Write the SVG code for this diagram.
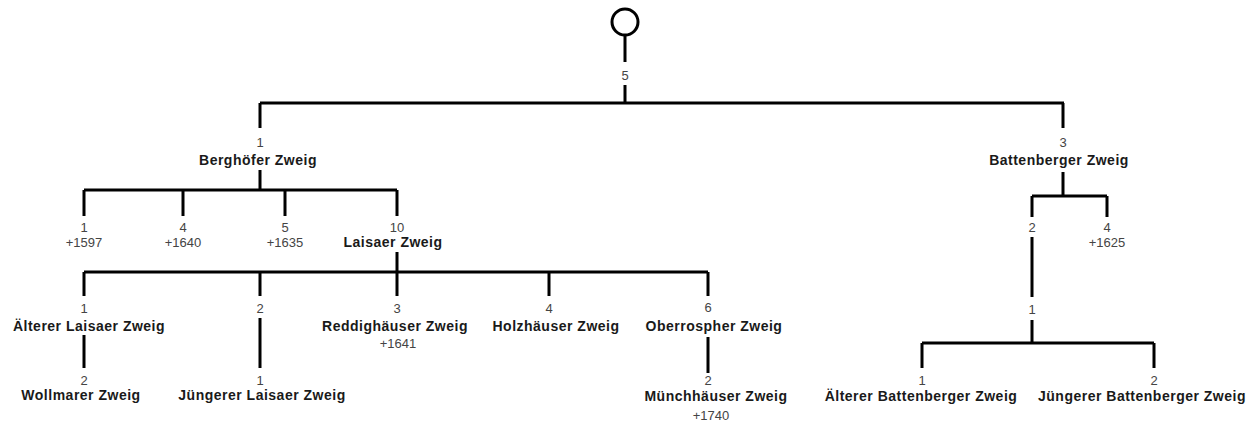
<svg xmlns="http://www.w3.org/2000/svg" width="1255" height="422" viewBox="0 0 1255 422">
<style>
.bg{fill:#ffffff}
.ln{stroke:#000;stroke-width:3;fill:none;stroke-linecap:butt}
.num{font-family:"Liberation Sans",Arial,sans-serif;font-size:13px;fill:#444;text-anchor:middle}
.nm{font-family:"Liberation Sans",Arial,sans-serif;font-size:14px;font-weight:bold;fill:#1a1a1a;text-anchor:middle;letter-spacing:0.5px}
</style>
<rect class="bg" x="0" y="0" width="1255" height="422"/>
<g id="connectors">
<path class="ln" d="M625 35V62M625 85V103M260 103H1064M260 103V128M1063 103V128"/>
<path class="ln" d="M260 170V190M84 190H397M84 190V216M183 190V216M285 190V216M397 190V216"/>
<path class="ln" d="M397 252V272M84 272H708M84 272V296M260 272V296M397 272V296M549 272V296M708 272V296"/>
<path class="ln" d="M84 335V368M260 318V368M708 337V373"/>
<path class="ln" d="M1063 172V196M1032 196H1107M1032 196V217M1107 196V217M1032 237V297M1032 320V343M922 343H1154M922 343V368M1154 343V368"/>
</g>
<g id="root"><circle cx="625" cy="22" r="13" fill="#fff" stroke="#000" stroke-width="3"/><text class="num" x="625" y="80">5</text></g>
<g id="berghoefer"><text class="num" x="260" y="146.5">1</text><text class="nm" x="258" y="165">Berghöfer Zweig</text></g>
<g id="b1"><text class="num" x="84" y="231.5">1</text><text class="num" x="84" y="246.5">+1597</text></g>
<g id="b4"><text class="num" x="183" y="231.5">4</text><text class="num" x="183" y="246.5">+1640</text></g>
<g id="b5"><text class="num" x="285" y="231.5">5</text><text class="num" x="285" y="246.5">+1635</text></g>
<g id="laisaer"><text class="num" x="397" y="231.5">10</text><text class="nm" x="393" y="247">Laisaer Zweig</text></g>
<g id="aelterer-laisaer"><text class="num" x="84" y="312.5">1</text><text class="nm" x="89" y="331">Älterer Laisaer Zweig</text></g>
<g id="wollmarer"><text class="num" x="84" y="384.5">2</text><text class="nm" x="81" y="400">Wollmarer Zweig</text></g>
<g id="l2"><text class="num" x="260" y="313">2</text></g>
<g id="juengerer-laisaer"><text class="num" x="260" y="384.5">1</text><text class="nm" x="262" y="400">Jüngerer Laisaer Zweig</text></g>
<g id="reddighaeuser"><text class="num" x="397" y="312.5">3</text><text class="nm" x="395" y="331">Reddighäuser Zweig</text><text class="num" x="398" y="347.5">+1641</text></g>
<g id="holzhaeuser"><text class="num" x="549" y="313">4</text><text class="nm" x="556" y="331">Holzhäuser Zweig</text></g>
<g id="oberrospher"><text class="num" x="708" y="312">6</text><text class="nm" x="714" y="331">Oberrospher Zweig</text></g>
<g id="muenchhaeuser"><text class="num" x="708" y="384.5">2</text><text class="nm" x="716" y="401">Münchhäuser Zweig</text><text class="num" x="711" y="419.5">+1740</text></g>
<g id="battenberger"><text class="num" x="1063" y="146.5">3</text><text class="nm" x="1059" y="165">Battenberger Zweig</text></g>
<g id="bt2"><text class="num" x="1032" y="231.5">2</text></g>
<g id="bt4"><text class="num" x="1107" y="231.5">4</text><text class="num" x="1107" y="246.5">+1625</text></g>
<g id="bt1"><text class="num" x="1032" y="313.5">1</text></g>
<g id="aelterer-battenberger"><text class="num" x="922" y="384.5">1</text><text class="nm" x="921" y="401">Älterer Battenberger Zweig</text></g>
<g id="juengerer-battenberger"><text class="num" x="1154" y="384.5">2</text><text class="nm" x="1142" y="401">Jüngerer Battenberger Zweig</text></g>
</svg>
